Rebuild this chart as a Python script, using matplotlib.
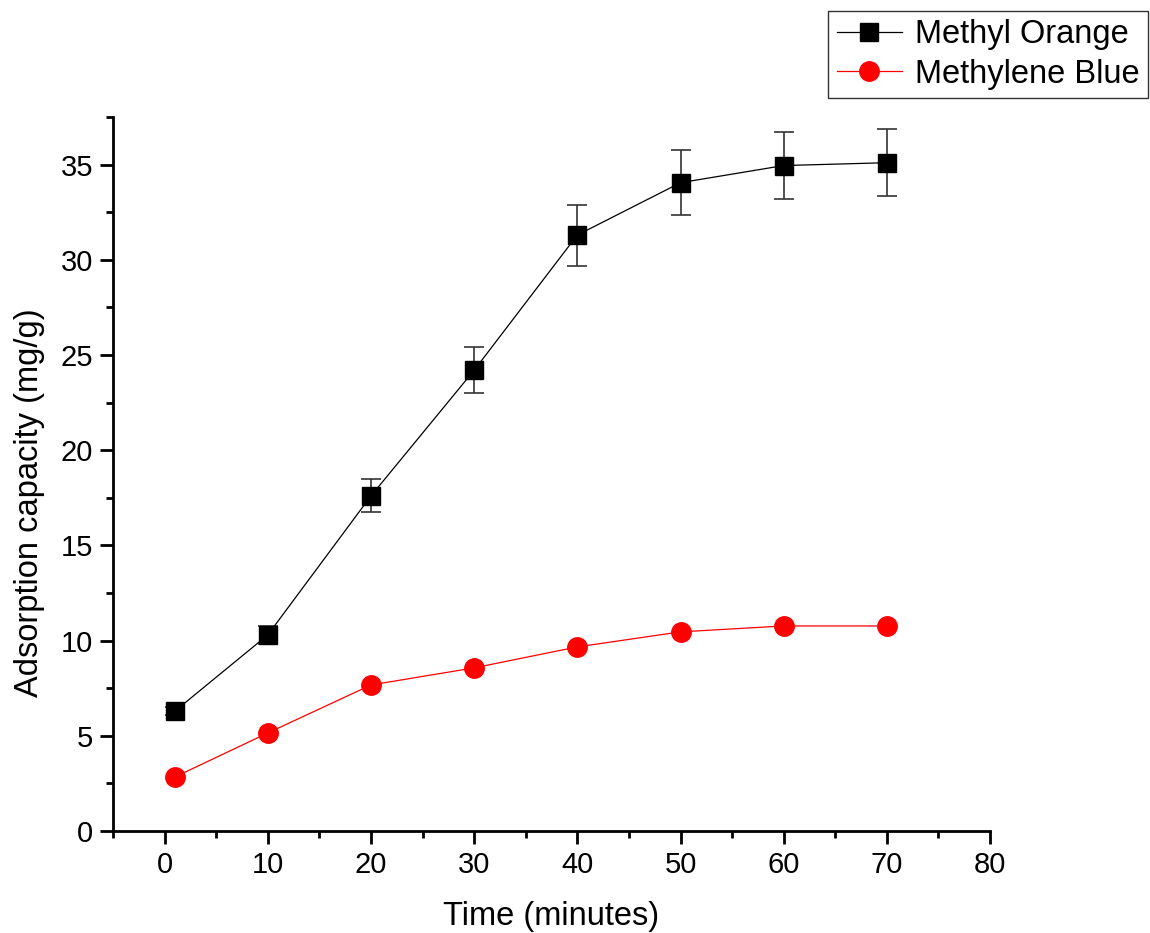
import matplotlib.pyplot as plt
from matplotlib.ticker import MultipleLocator

plt.rcParams['font.family'] = ['Liberation Sans', 'DejaVu Sans']

# data
time_min = [1, 10, 20, 30, 40, 50, 60, 70]
methyl_orange = [6.3, 10.3, 17.6, 24.2, 31.3, 34.05, 34.95, 35.1]
methyl_orange_err = [0.2, 0.47, 0.87, 1.2, 1.6, 1.7, 1.75, 1.75]
methylene_blue = [2.84, 5.15, 7.67, 8.57, 9.67, 10.46, 10.77, 10.77]

fig = plt.figure(figsize=(11.5, 9.33), dpi=100)
ax = fig.add_axes([0.0983, 0.1093, 0.7626, 0.7653])

mo = ax.errorbar(time_min, methyl_orange, yerr=methyl_orange_err, color='black',
                 ecolor='#333333', elinewidth=1.2, capsize=7, capthick=1.2,
                 marker='s', markersize=13, linewidth=0.9, label='Methyl Orange')
mb, = ax.plot(time_min, methylene_blue, color='#ff0000', marker='o', markersize=14,
              linewidth=0.9, label='Methylene Blue')

ax.set_xlim(-5, 80)
ax.set_ylim(0, 37.5)
ax.xaxis.set_major_locator(MultipleLocator(10))
ax.xaxis.set_minor_locator(MultipleLocator(5))
ax.yaxis.set_major_locator(MultipleLocator(5))
ax.yaxis.set_minor_locator(MultipleLocator(2.5))

for s in ['top', 'right']:
    ax.spines[s].set_visible(False)
for s in ['left', 'bottom']:
    ax.spines[s].set_linewidth(2)

ax.tick_params(which='major', direction='out', length=9.5, width=2, labelsize=21, pad=5)
ax.tick_params(which='minor', direction='out', length=5, width=2)

ax.set_xlabel('Time (minutes)', fontsize=23.5, labelpad=16)
ax.set_ylabel('Adsorption capacity (mg/g)', fontsize=23.5)
ax.yaxis.set_label_coords(-0.078, 0.46)

leg = fig.legend([mo[0], mb], ['Methyl Orange', 'Methylene Blue'],
                 loc='upper right', bbox_to_anchor=(0.998, 0.988), fontsize=23.5,
                 frameon=True, fancybox=False, edgecolor='black', borderpad=0.25,
                 handlelength=2.0, handletextpad=0.4, labelspacing=0.25,
                 borderaxespad=0)
leg.get_frame().set_linewidth(1)

plt.savefig('out.png', dpi=100)
